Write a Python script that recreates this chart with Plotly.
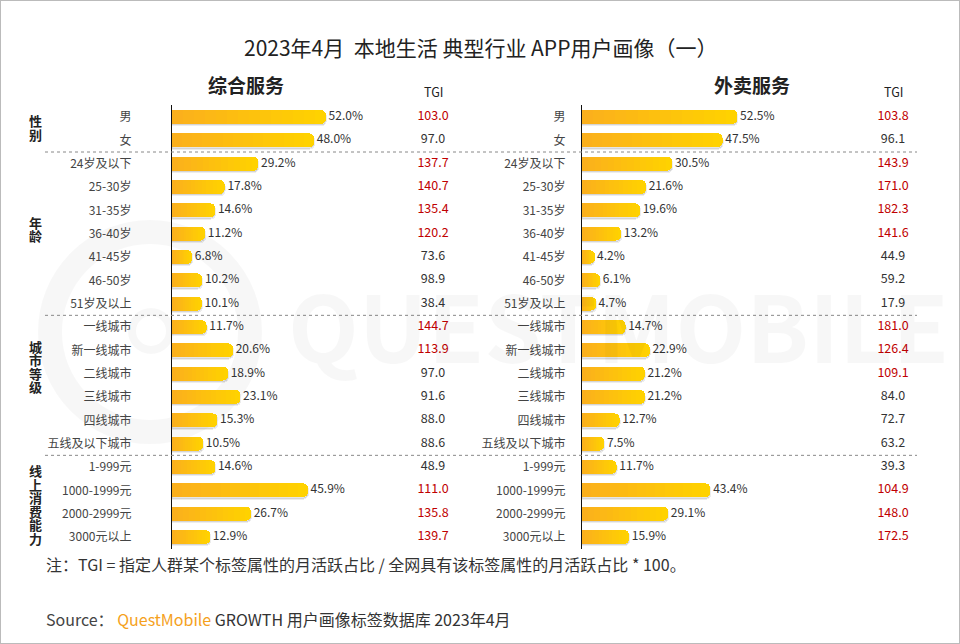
import plotly.graph_objects as go

# ---------------- data ----------------
categories = ["男", "女",
              "24岁及以下", "25-30岁", "31-35岁", "36-40岁", "41-45岁", "46-50岁", "51岁及以上",
              "一线城市", "新一线城市", "二线城市", "三线城市", "四线城市", "五线及以下城市",
              "1-999元", "1000-1999元", "2000-2999元", "3000元以上"]
groups = ["性别", "年龄", "城市等级", "线上消费能力"]
group_sizes = [2, 7, 6, 4]

panel_titles = ["综合服务", "外卖服务"]
share_zonghe = [52.0, 48.0, 29.2, 17.8, 14.6, 11.2, 6.8, 10.2, 10.1,
                11.7, 20.6, 18.9, 23.1, 15.3, 10.5, 14.6, 45.9, 26.7, 12.9]
tgi_zonghe = [103.0, 97.0, 137.7, 140.7, 135.4, 120.2, 73.6, 98.9, 38.4,
              144.7, 113.9, 97.0, 91.6, 88.0, 88.6, 48.9, 111.0, 135.8, 139.7]
share_waimai = [52.5, 47.5, 30.5, 21.6, 19.6, 13.2, 4.2, 6.1, 4.7,
                14.7, 22.9, 21.2, 21.2, 12.7, 7.5, 11.7, 43.4, 29.1, 15.9]
tgi_waimai = [103.8, 96.1, 143.9, 171.0, 182.3, 141.6, 44.9, 59.2, 17.9,
              181.0, 126.4, 109.1, 84.0, 72.7, 63.2, 39.3, 104.9, 148.0, 172.5]

# ---------------- style ----------------
W, H = 960, 644
FONT = "Noto Sans CJK SC"
RED = "#C00000"
DARK = "#333333"
C_LEFT = (251, 176, 28)
C_RIGHT = (255, 210, 0)
NSEG = 14
XMAX = 80
GROUP_LABEL_ROWS = [0.45, 4.8, 10.7, 16.6]   # vertical centre of each group label (row units)
GROUP_CHAR_STEP = 13.5                        # px between stacked characters


def px(x):
    return x / W


def py(y):
    return 1 - y / H


n = len(categories)
idx = list(range(n))
row_top, row_bot = 117, 537
step = (row_bot - row_top) / (n - 1)
ydom = [py(row_bot + step / 2), py(row_top - step / 2)]

panels = [
    dict(share=share_zonghe, tgi=tgi_zonghe, axis_px=172, tgi_px=433, title_px=246, standoff=37),
    dict(share=share_waimai, tgi=tgi_waimai, axis_px=582, tgi_px=893, title_px=752, standoff=13),
]
scale = 2.96  # px per percent

fig = go.Figure()
layout_axes = {}


def xname(s):
    return "xaxis" + (s[1:] if s != "x1" else "")


def yname(s):
    return "yaxis" + (s[1:] if s != "y1" else "")


for p, pan in enumerate(panels):
    k = p * 4
    xb, xo, xt = f"x{k+1}", f"x{k+2}", f"x{k+3}"
    yb, yt = f"y{k+1}", f"y{k+3}"
    d0 = px(pan["axis_px"])
    d1 = px(pan["axis_px"] + scale * XMAX)
    # shadow bars (base axis)
    fig.add_trace(go.Bar(
        x=pan["share"], y=idx, orientation="h", xaxis=xb, yaxis=yb,
        marker=dict(color="rgba(0,0,0,0.10)", line=dict(color="rgba(0,0,0,0.07)", width=2)),
        width=0.58, offset=-0.22, hoverinfo="skip", showlegend=False))
    # gradient bars (overlaying axis)
    for s in range(NSEG):
        t = s / (NSEG - 1)
        col = "rgb({},{},{})".format(*[round(a + (b - a) * t) for a, b in zip(C_LEFT, C_RIGHT)])
        fig.add_trace(go.Bar(
            x=[v / NSEG for v in pan["share"]], y=idx, orientation="h", xaxis=xo, yaxis=yb,
            marker=dict(color=col, line=dict(width=0)), width=0.6,
            hoverinfo="skip", showlegend=False))
    # value labels
    fig.add_trace(go.Scatter(
        x=pan["share"], y=idx, mode="text", xaxis=xo, yaxis=yb,
        text=[f" {v:.1f}%" for v in pan["share"]], textposition="middle right",
        textfont=dict(family=FONT, size=12, color=DARK), cliponaxis=False,
        hoverinfo="skip", showlegend=False))
    # TGI column
    fig.add_trace(go.Scatter(
        x=[0.5] * n, y=idx, mode="text", xaxis=xt, yaxis=yt,
        text=[f"{v:.1f}" for v in pan["tgi"]], textposition="middle center",
        textfont=dict(family=FONT, size=12.5, color=[RED if v > 100 else DARK for v in pan["tgi"]]),
        cliponaxis=False, hoverinfo="skip", showlegend=False))

    layout_axes[xname(xb)] = dict(domain=[d0, d1], range=[0, XMAX], visible=False, anchor=yb)
    layout_axes[xname(xo)] = dict(domain=[d0, d1], range=[0, XMAX], visible=False,
                                  overlaying=xb, anchor=yb)
    layout_axes[xname(xt)] = dict(domain=[px(pan["tgi_px"] - 25), px(pan["tgi_px"] + 25)],
                                  range=[0, 1], visible=False, anchor=yt)
    layout_axes[yname(yb)] = dict(
        domain=ydom, range=[n - 0.5, -0.5], anchor=xb,
        tickmode="array", tickvals=idx, ticktext=categories,
        tickfont=dict(family=FONT, size=12, color="#444444"),
        ticks="", ticklabelstandoff=pan["standoff"],
        showgrid=False, zeroline=False,
        showline=True, linecolor="#111111", linewidth=1.2)
    layout_axes[yname(yt)] = dict(domain=ydom, range=[n - 0.5, -0.5], anchor=xt, visible=False)

shapes = []
annotations = []

# watermark (very light)
annotations.append(dict(text="QUESTMOBILE", x=px(618), y=py(322), xref="paper", yref="paper",
                        showarrow=False, xanchor="center", yanchor="middle",
                        font=dict(family=FONT, size=92, color="rgba(0,0,0,0.03)", weight="bold")))
shapes.append(dict(type="circle", xref="paper", yref="paper", layer="below",
                   x0=px(50), x1=px(250), y0=py(432), y1=py(232),
                   line=dict(color="rgba(0,0,0,0.03)", width=24)))
shapes.append(dict(type="circle", xref="paper", yref="paper", layer="below",
                   x0=px(132), x1=px(170), y0=py(350), y1=py(312),
                   line=dict(color="rgba(0,0,0,0.03)", width=8)))

# group labels + dashed separators between groups
pos = 0
for g, size, crow in zip(groups, group_sizes, GROUP_LABEL_ROWS):
    cpx = row_top + crow * step
    chars = list(g)
    for i, ch in enumerate(chars):
        ypx = cpx + (i - (len(chars) - 1) / 2) * GROUP_CHAR_STEP
        annotations.append(dict(
            text=ch, x=px(35), y=py(ypx), xref="paper", yref="paper",
            showarrow=False, xanchor="center", yanchor="middle",
            font=dict(family=FONT, size=13, color="#222222", weight="bold")))
    if pos > 0:
        shapes.append(dict(type="line", xref="paper", yref="y", x0=px(45), x1=px(917),
                           y0=pos - 0.5, y1=pos - 0.5,
                           line=dict(color="#888888", width=1, dash="dot"), layer="above"))
    pos += size

# panel titles and TGI headers
for pan, ttl in zip(panels, panel_titles):
    annotations.append(dict(text=ttl, x=px(pan["title_px"]), y=py(84), xref="paper", yref="paper",
                            showarrow=False, xanchor="center", yanchor="middle",
                            font=dict(family=FONT, size=19, color="#222222", weight="bold")))
    annotations.append(dict(text="TGI", x=px(pan["tgi_px"]), y=py(92), xref="paper", yref="paper",
                            showarrow=False, xanchor="center", yanchor="middle",
                            font=dict(family=FONT, size=12.5, color="#222222")))

# main title
annotations.append(dict(text="2023年4月  本地生活 典型行业 APP用户画像（一）", x=0.5, y=py(47),
                        xref="paper", yref="paper", showarrow=False, xanchor="center",
                        yanchor="middle", font=dict(family=FONT, size=21, color="#222222")))
# note
annotations.append(dict(text="注：TGI = 指定人群某个标签属性的月活跃占比 / 全网具有该标签属性的月活跃占比 * 100。",
                        x=px(44), y=py(564), xref="paper", yref="paper", showarrow=False,
                        xanchor="left", yanchor="middle",
                        font=dict(family=FONT, size=16, color=DARK)))
# source
annotations.append(dict(
    text="<span style='color:#444444'>Source：</span> <span style='color:#F5A11C'>QuestMobile</span>"
         "<span style='color:#333333'> GROWTH 用户画像标签数据库 2023年4月</span>",
    x=px(44), y=py(619), xref="paper", yref="paper", showarrow=False,
    xanchor="left", yanchor="middle", font=dict(family=FONT, size=16)))

# outer frame
shapes.append(dict(type="rect", xref="paper", yref="paper", x0=0, x1=1, y0=0, y1=1,
                   line=dict(color="#BBBBBB", width=2), layer="above"))

fig.update_layout(
    width=W, height=H, margin=dict(l=0, r=0, t=0, b=0),
    paper_bgcolor="white", plot_bgcolor="rgba(0,0,0,0)",
    barmode="stack", barcornerradius=5, showlegend=False,
    shapes=shapes, annotations=annotations,
    font=dict(family=FONT),
    **layout_axes)

fig.write_html("out.html", config={"displayModeBar": False},
               post_script="document.body.style.margin='0';document.body.style.overflow='hidden';")
